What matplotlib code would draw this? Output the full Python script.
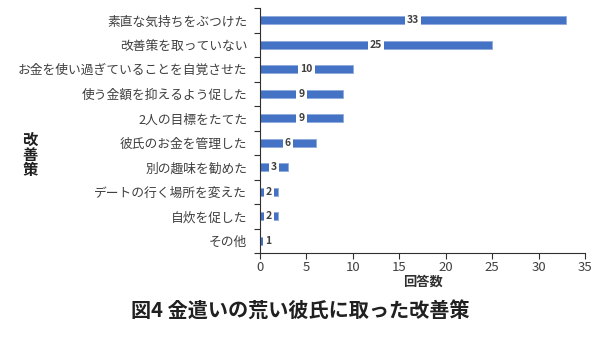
import numpy as np
import matplotlib.pyplot as plt
from matplotlib.ticker import FixedLocator

plt.rcParams['font.family'] = ['Noto Sans CJK JP', 'DejaVu Sans']

categories = ['素直な気持ちをぶつけた', '改善策を取っていない', 'お金を使い過ぎていることを自覚させた',
              '使う金額を抑えるよう促した', '2人の目標をたてた', '彼氏のお金を管理した',
              '別の趣味を勧めた', 'デートの行く場所を変えた', '自炊を促した', 'その他']
counts = [33, 25, 10, 9, 9, 6, 3, 2, 2, 1]
xticks = [0, 5, 10, 15, 20, 25, 30, 35]

fig = plt.figure(figsize=(6, 3.37), dpi=100)
ax = fig.add_axes([0.433, 0.249, 0.542, 0.727])

n = len(categories)
ypos = np.arange(n)[::-1]
ax.barh(ypos, counts, height=0.33, color='#4472C4', edgecolor='#8FAADC', linewidth=0.6)

for y, v in zip(ypos, counts):
    # the label for the tiniest bar covers its right end
    xl = v / 2 if v > 1 else 0.88
    ax.text(xl, y, str(v), ha='center', va='center', fontsize=7.5, fontweight='bold',
            color='#404040',
            bbox=dict(boxstyle='square,pad=0.2', facecolor='white', edgecolor='none'))

ax.set_xlim(0, 35)
ax.set_ylim(-0.5, n - 0.5)
ax.set_xticks(xticks)
ax.set_yticks(ypos)
ax.set_yticklabels(categories)
ax.yaxis.set_minor_locator(FixedLocator(np.arange(-0.5, n, 1)))
ax.tick_params(axis='y', which='major', length=0, pad=9, labelsize=9.2, labelcolor='#404040')
ax.tick_params(axis='y', which='minor', length=4, color='#303030', width=0.8)
ax.tick_params(axis='x', length=4, color='#303030', width=0.8, labelsize=9.5, labelcolor='#404040', pad=2)

for s in ['top', 'right']:
    ax.spines[s].set_visible(False)
for s in ['left', 'bottom']:
    ax.spines[s].set_color('#303030')
    ax.spines[s].set_linewidth(0.8)

ax.set_xlabel('回答数', fontsize=9.5, fontweight='bold', color='#303030', labelpad=0)
fig.text(0.05, 0.54, '改\n善\n策', ha='center', va='center', fontsize=11, fontweight='bold',
         color='#202020', linespacing=0.95)
fig.text(0.5, 0.08, '図4 金遣いの荒い彼氏に取った改善策', ha='center', va='center',
         fontsize=14.5, fontweight='bold', color='#202020')

fig.savefig('out.png', dpi=100)
